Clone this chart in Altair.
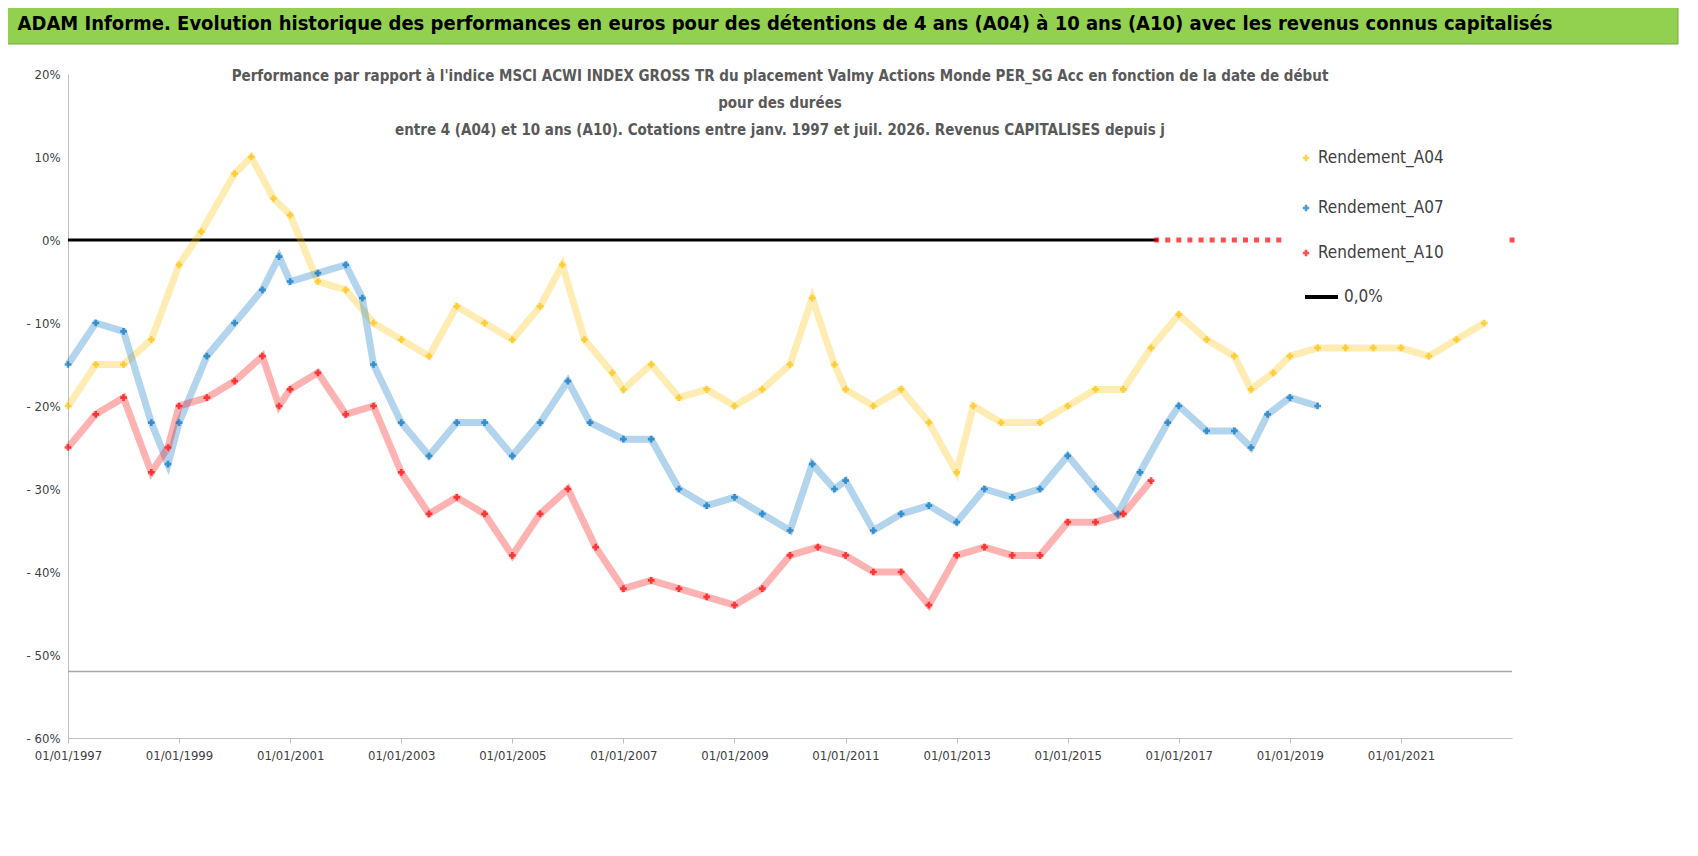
import altair as alt
import pandas as pd

# decimal year, value in %
a04_t = [1997.0, 1997.5, 1998.0, 1998.5, 1999.0, 1999.4, 2000.0, 2000.3, 2000.7, 2001.0, 2001.5, 2002.0, 2002.5,
         2003.0, 2003.5, 2004.0, 2004.5, 2005.0, 2005.5, 2005.9, 2006.3, 2006.8, 2007.0, 2007.5, 2008.0, 2008.5,
         2009.0, 2009.5, 2010.0, 2010.4, 2010.8, 2011.0, 2011.5, 2012.0, 2012.5, 2013.0, 2013.3, 2013.8, 2014.5,
         2015.0, 2015.5, 2016.0, 2016.5, 2017.0, 2017.5, 2018.0, 2018.3, 2018.7, 2019.0, 2019.5, 2020.0, 2020.5,
         2021.0, 2021.5, 2022.0, 2022.5]
a04_v = [-20, -15, -15, -12, -3, 1, 8, 10, 5, 3, -5, -6, -10,
         -12, -14, -8, -10, -12, -8, -3, -12, -16, -18, -15, -19, -18,
         -20, -18, -15, -7, -15, -18, -20, -18, -22, -28, -20, -22, -22,
         -20, -18, -18, -13, -9, -12, -14, -18, -16, -14, -13, -13, -13,
         -13, -14, -12, -10]
a07_t = [1997.0, 1997.5, 1998.0, 1998.5, 1998.8, 1999.0, 1999.5, 2000.0, 2000.5, 2000.8, 2001.0, 2001.5, 2002.0,
         2002.3, 2002.5, 2003.0, 2003.5, 2004.0, 2004.5, 2005.0, 2005.5, 2006.0, 2006.4, 2007.0, 2007.5, 2008.0,
         2008.5, 2009.0, 2009.5, 2010.0, 2010.4, 2010.8, 2011.0, 2011.5, 2012.0, 2012.5, 2013.0, 2013.5, 2014.0,
         2014.5, 2015.0, 2015.5, 2015.9, 2016.3, 2016.8, 2017.0, 2017.5, 2018.0, 2018.3, 2018.6, 2019.0, 2019.5]
a07_v = [-15, -10, -11, -22, -27, -22, -14, -10, -6, -2, -5, -4, -3,
         -7, -15, -22, -26, -22, -22, -26, -22, -17, -22, -24, -24, -30,
         -32, -31, -33, -35, -27, -30, -29, -35, -33, -32, -34, -30, -31,
         -30, -26, -30, -33, -28, -22, -20, -23, -23, -25, -21, -19, -20]
a10_t = [1997.0, 1997.5, 1998.0, 1998.5, 1998.8, 1999.0, 1999.5, 2000.0, 2000.5, 2000.8, 2001.0, 2001.5, 2002.0,
         2002.5, 2003.0, 2003.5, 2004.0, 2004.5, 2005.0, 2005.5, 2006.0, 2006.5, 2007.0, 2007.5, 2008.0, 2008.5,
         2009.0, 2009.5, 2010.0, 2010.5, 2011.0, 2011.5, 2012.0, 2012.5, 2013.0, 2013.5, 2014.0, 2014.5, 2015.0,
         2015.5, 2016.0, 2016.5]
a10_v = [-25, -21, -19, -28, -25, -20, -19, -17, -14, -20, -18, -16, -21,
         -20, -28, -33, -31, -33, -38, -33, -30, -37, -42, -41, -42, -43,
         -44, -42, -38, -37, -38, -40, -40, -44, -38, -37, -38, -38, -34,
         -34, -33, -29]
# A10 points sitting on zero (no data)
a10z_t = [2016.6, 2016.8, 2017.0, 2017.2, 2017.4, 2017.6, 2017.8, 2018.0, 2018.2, 2018.4, 2018.6, 2018.8, 2023.0]

series = ["Rendement_A04", "Rendement_A07", "Rendement_A10"]
colors = ["#FFC000", "#0070C0", "#FF0000"]


def to_date(y):
    return pd.Timestamp("1997-01-01") + pd.Timedelta(days=(y - 1997) * 365.25)


rows = []
for name, ts, vs in [(series[0], a04_t, a04_v), (series[1], a07_t, a07_v), (series[2], a10_t, a10_v)]:
    for t, v in zip(ts, vs):
        rows.append({"date": to_date(t), "v": v / 100, "s": name})
df = pd.DataFrame(rows)
dz = pd.DataFrame({"date": [to_date(t) for t in a10z_t], "v": 0.0, "s": series[2]})

W, H = 1444, 664
FONT = "DejaVu Sans Condensed"
ticks = [pd.Timestamp(f"{y}-01-01") for y in range(1997, 2023, 2)]
xs = alt.X("date:T", scale=alt.Scale(domain=[pd.Timestamp("1997-01-01").isoformat(), pd.Timestamp("2023-01-01").isoformat()]),
           axis=alt.Axis(values=[t.isoformat() for t in ticks], format="%d/%m/%Y", grid=False, title=None,
                         labelFont=FONT, labelFontSize=13, labelColor="#404040", domainColor="#bfbfbf",
                         tickColor="#bfbfbf", labelPadding=6, labelFlush=False, labelOverlap=False))
ys = alt.Y("v:Q", scale=alt.Scale(domain=[-0.6, 0.2]),
           axis=alt.Axis(values=[0.2, 0.1, 0, -0.1, -0.2, -0.3, -0.4, -0.5, -0.6], grid=False, title=None,
                         labelExpr="datum.value < 0 ? '- ' + format(-datum.value, '.0%') : format(datum.value, '.0%')",
                         labelFont=FONT, labelFontSize=13, labelColor="#404040", domainColor="#bfbfbf",
                         ticks=False, labelPadding=8, labelFlush=False))
cs = alt.Color("s:N", scale=alt.Scale(domain=series, range=colors), legend=None)

lines = alt.Chart(df).mark_line(strokeWidth=7, opacity=0.3).encode(x=xs, y=ys, color=cs, detail="s:N")
pts = alt.Chart(df).mark_point(shape="cross", filled=True, size=45).encode(x=xs, y=ys, color=cs)
zero = alt.Chart(pd.DataFrame({"v": [0.0]})).mark_rule(color="black", strokeWidth=3).encode(
    y="v:Q", x=alt.value(0), x2=alt.value(1090))
low = alt.Chart(pd.DataFrame({"v": [-0.52]})).mark_rule(color="#a6a6a6", strokeWidth=1.5).encode(
    y="v:Q", x=alt.value(0), x2=alt.value(W))
zpts = alt.Chart(dz).mark_point(shape="square", filled=True, size=25, color="#FF0000").encode(x=xs, y="v:Q")

bar = alt.Chart(pd.DataFrame({"a": [0]})).mark_rect(color="#92D050", stroke="#70AD47").encode(
    x=alt.value(-62), x2=alt.value(W + 166), y=alt.value(-68), y2=alt.value(-30))
title = alt.Chart(pd.DataFrame({"t": ["ADAM Informe. Evolution historique des performances en euros pour des détentions de 4 ans (A04) à 10 ans (A10) avec les revenus connus capitalisés"]})).mark_text(
    font=FONT, fontSize=20, fontWeight="bold", color="black").encode(text="t:N", x=alt.value(717), y=alt.value(-50))
sub = alt.Chart(pd.DataFrame({"t": [
    "Performance par rapport à l'indice MSCI ACWI INDEX GROSS TR  du placement Valmy Actions Monde PER_SG Acc en fonction de la date de début",
    "pour des durées",
    "entre 4 (A04) et 10 ans (A10). Cotations entre janv. 1997 et juil. 2026. Revenus CAPITALISES depuis j"],
    "y": [2, 29, 56]})).mark_text(font=FONT, fontSize=15, fontWeight="bold", color="#595959").encode(
    text="t:N", x=alt.value(712), y=alt.Y("y:Q", scale=None))

leg = pd.DataFrame({"s": series, "y": [84, 134, 179]})
legp = alt.Chart(leg).mark_point(shape="cross", filled=True, size=40).encode(
    x=alt.value(1238), y=alt.Y("y:Q", scale=None), color=cs)
legt = alt.Chart(pd.DataFrame({"t": series + ["0,0%"], "y": [84, 134, 179, 223]})).mark_text(
    font=FONT, fontSize=17, align="left", color="#404040").encode(
    text="t:N", x=alt.value(1250), y=alt.Y("y:Q", scale=None))
legl = alt.Chart(pd.DataFrame({"a": [0]})).mark_rule(color="black", strokeWidth=4).encode(
    x=alt.value(1237), x2=alt.value(1270), y=alt.value(223))
legt2 = legt.transform_filter("datum.t == '0,0%'").encode(x=alt.value(1276))
legt1 = legt.transform_filter("datum.t != '0,0%'")

chart = alt.layer(bar, title, low, zero, lines, pts, zpts, sub, legp, legt1, legl, legt2).properties(
    width=W, height=H, autosize=alt.AutoSizeParams(type="none"),
    padding={"left": 60, "top": 66, "right": 170, "bottom": 60}
).configure_view(stroke=None).resolve_scale(y="shared")
chart.save("out.html", embed_options={"renderer": "svg", "actions": False})
